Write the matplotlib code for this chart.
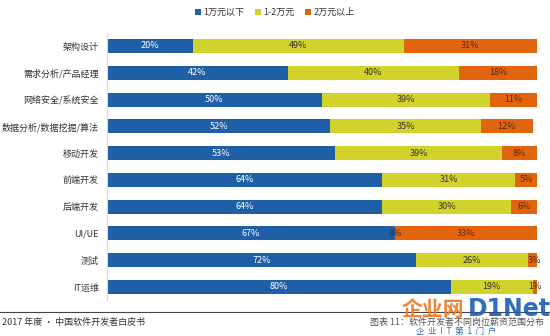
import matplotlib
matplotlib.use('Agg')
import matplotlib.pyplot as plt
import numpy as np

plt.rcParams['font.family'] = ['Noto Sans CJK SC', 'DejaVu Sans']

categories = ['架构设计', '需求分析/产品经理', '网络安全/系统安全', '数据分析/数据挖掘/算法',
              '移动开发', '前端开发', '后端开发', 'UI/UE', '测试', 'IT运维']
below_1w = [20, 42, 50, 52, 53, 64, 64, 67, 72, 80]
from_1_2w = [49, 40, 39, 35, 39, 31, 30, 0, 26, 19]
above_2w = [31, 18, 11, 12, 8, 5, 6, 33, 3, 1]
series_names = ['1万元以下', '1-2万元', '2万元以上']

colors = ['#1f5fa8', '#d2d22c', '#e2650e']
text_colors = ['white', '#333333', '#5a2a08']

fig = plt.figure(figsize=(5.5, 3.36), dpi=100)
ax = fig.add_axes([0.1945, 0.106, 0.7815, 0.797])

y = np.arange(len(categories))
left = np.zeros(len(categories))
for vals, name, c, tc in zip([below_1w, from_1_2w, above_2w], series_names, colors, text_colors):
    vals = np.array(vals, dtype=float)
    ax.barh(y, vals, left=left, height=0.52, color=c, label=name, linewidth=0)
    for yi, l, v in zip(y, left, vals):
        ax.text(l + v / 2, yi, f'{int(v)}%', ha='center', va='center',
                fontsize=6.5, color=tc)
    left += vals

ax.set_xlim(0, 100)
ax.set_ylim(len(categories) - 0.5, -0.5)
ax.set_yticks(y)
ax.set_yticklabels(categories, fontsize=6.5, color='#333333')
ax.tick_params(axis='y', length=0, pad=6)
ax.set_xticks([])
for s in ['top', 'right', 'bottom']:
    ax.spines[s].set_visible(False)
ax.spines['left'].set_color('#d9d9d9')
ax.spines['left'].set_linewidth(0.8)

fig.legend(loc='center', bbox_to_anchor=(0.5, 0.962), ncol=3, fontsize=6.5,
           frameon=False, handlelength=0.6, handleheight=0.6, handletextpad=0.3,
           columnspacing=1.2, labelcolor='#333333')

# footer
fig.add_artist(plt.Line2D([0, 1], [0.072, 0.072], color='#444444', lw=0.8))
fig.text(0.003, 0.04, '2017 年度 · 中国软件开发者白皮书', fontsize=6.5,
         color='#333333', ha='left', va='center')
fig.text(0.99, 0.04, '图表 11：软件开发者不同岗位薪资范围分布', fontsize=6.5,
         color='#555555', ha='right', va='center')

# watermark
fig.text(0.845, 0.08, '企业网', fontsize=15, fontweight='bold', color='#f07820',
         ha='right', va='center', alpha=0.9)
fig.text(0.85, 0.08, 'D1Net', fontsize=17, fontweight='bold', color='#1a5fb4',
         ha='left', va='center', alpha=0.9, family='DejaVu Sans')
fig.text(0.83, 0.012, '企  业  I  T  第  1  门  户', fontsize=6, color='#1a5fb4',
         ha='center', va='center', alpha=0.9)

fig.savefig('out.png', dpi=100)
